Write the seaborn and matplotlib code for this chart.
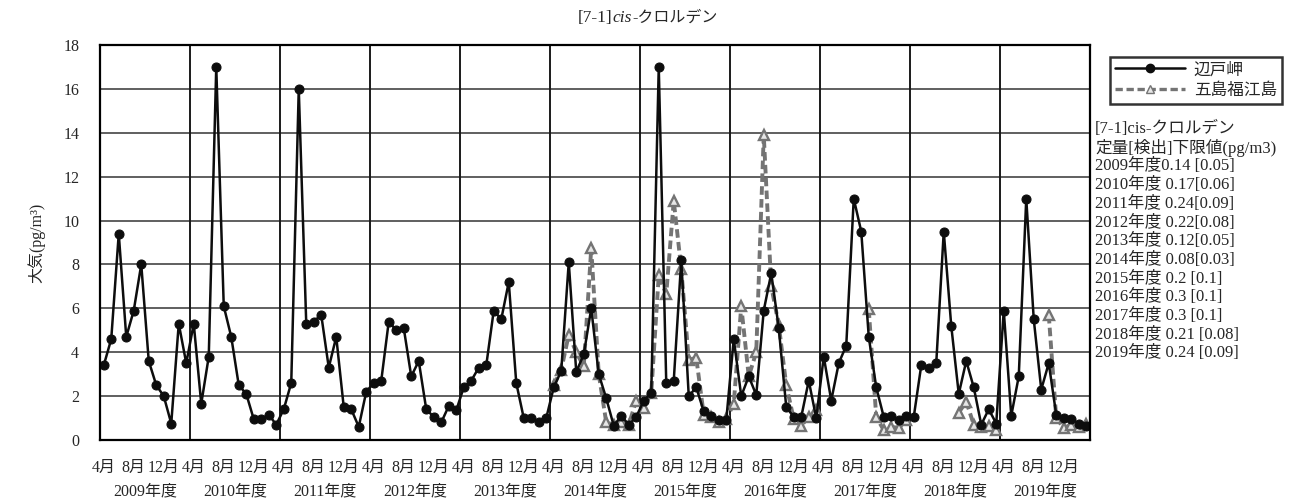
import matplotlib
matplotlib.use("Agg")
import matplotlib.pyplot as plt
from matplotlib.lines import Line2D
import numpy as np
import pandas as pd
import seaborn as sns

# fiscal years (April - March), one value per month
years = ["2009", "2010", "2011", "2012", "2013", "2014",
         "2015", "2016", "2017", "2018", "2019"]
months = ["4月", "5月", "6月", "7月", "8月", "9月",
          "10月", "11月", "12月", "1月", "2月", "3月"]
shown_months = ["4月", "8月", "12月"]

# 辺戸岬 (pg/m3)
hedo = [
    3.4, 4.6, 9.4, 4.7, 5.9, 8.0, 3.6, 2.5, 2.0, 0.75, 5.3, 3.5,      # 2009
    5.3, 1.65, 3.8, 17.0, 6.1, 4.7, 2.5, 2.1, 0.95, 0.95, 1.15, 0.7,  # 2010
    1.4, 2.6, 16.0, 5.3, 5.4, 5.7, 3.3, 4.7, 1.5, 1.4, 0.6, 2.2,      # 2011
    2.6, 2.7, 5.4, 5.0, 5.1, 2.9, 3.6, 1.4, 1.05, 0.8, 1.55, 1.35,    # 2012
    2.4, 2.7, 3.3, 3.4, 5.9, 5.5, 7.2, 2.6, 1.0, 1.0, 0.8, 1.0,       # 2013
    2.4, 3.15, 8.1, 3.1, 3.9, 6.0, 3.0, 1.9, 0.65, 1.1, 0.7, 1.05,    # 2014
    1.8, 2.15, 17.0, 2.6, 2.7, 8.2, 2.0, 2.4, 1.3, 1.1, 0.9, 0.9,     # 2015
    4.6, 2.0, 2.9, 2.05, 5.9, 7.6, 5.1, 1.5, 1.05, 1.05, 2.7, 1.0,    # 2016
    3.8, 1.8, 3.5, 4.3, 11.0, 9.5, 4.7, 2.4, 1.05, 1.1, 0.9, 1.1,     # 2017
    1.05, 3.4, 3.3, 3.5, 9.5, 5.2, 2.1, 3.6, 2.4, 0.7, 1.4, 0.75,     # 2018
    5.9, 1.1, 2.9, 11.0, 5.5, 2.3, 3.5, 1.15, 1.0, 0.95, 0.75, 0.65,  # 2019
]

# 五島福江島 (pg/m3), NaN = no measurement
nan = np.nan
goto = [nan] * 60 + [
    2.5, 3.2, 4.8, 4.0, 3.35, 8.75, 3.0, 0.8, 0.7, 0.8, 0.7, 1.8,     # 2014
    1.45, 2.15, 7.5, 6.65, 10.9, 7.8, 3.65, 3.75, 1.15, 1.05, 0.8, 0.95,  # 2015
    1.65, 6.1, 2.9, 4.0, 13.9, 7.0, 5.25, 2.5, 0.95, 0.65, 1.05, 1.35,    # 2016
    nan, nan, nan, nan, nan, nan, 5.95, 1.05, 0.45, 0.6, 0.55, 0.9,   # 2017
    nan, nan, nan, nan, nan, nan, 1.25, 1.75, 0.7, 0.6, 0.65, 0.45,   # 2018
    nan, nan, nan, nan, nan, nan, 5.7, 1.0, 0.55, 0.7, 0.6, 0.75,     # 2019
]

limit_lines = [
    "[7-1]cis-クロルデン",
    "定量[検出]下限値(pg/m3)",
    "2009年度0.14 [0.05]",
    "2010年度 0.17[0.06]",
    "2011年度 0.24[0.09]",
    "2012年度 0.22[0.08]",
    "2013年度 0.12[0.05]",
    "2014年度 0.08[0.03]",
    "2015年度 0.2 [0.1]",
    "2016年度 0.3 [0.1]",
    "2017年度 0.3 [0.1]",
    "2018年度 0.21 [0.08]",
    "2019年度 0.24 [0.09]",
]

sns.set_style("white")
plt.rcParams["font.family"] = ["Liberation Serif", "Noto Sans CJK JP"]

W, H = 1292, 504
fig = plt.figure(figsize=(W / 100, H / 100), dpi=100)
ax = fig.add_axes([100 / W, 1 - 440 / H, 990 / W, 395 / H])

n = len(hedo)
df = pd.DataFrame({"idx": np.arange(n), "hedo": hedo, "goto": goto})
df["seg"] = df["goto"].isna().cumsum()
gdf = df.dropna(subset=["goto"])

black_color = "#0d0d0d"
gray_color = "#747474"

# grid first so the lines sit on top
for v in range(2, 18, 2):
    ax.axhline(v, color="#444444", lw=1.2, zorder=1)
for k in range(1, len(years)):
    ax.axvline(12 * k - 0.5, color="#1a1a1a", lw=1.4, zorder=1)

sns.lineplot(data=gdf, x="idx", y="goto", units="seg", estimator=None,
             color=gray_color, lw=2.8, linestyle=(0, (2.2, 1.1)),
             marker="^", markersize=7.5, markerfacecolor="#e6e6e6",
             markeredgecolor=gray_color, markeredgewidth=1.7,
             ax=ax, zorder=3)
sns.lineplot(data=df, x="idx", y="hedo", estimator=None,
             color=black_color, lw=1.8, marker="o", markersize=6.5,
             markeredgecolor=black_color, markerfacecolor=black_color,
             ax=ax, zorder=4)

ax.set_xlim(-0.5, n - 0.5)
ax.set_ylim(0, 18)
ax.set_yticks(range(0, 19, 2))
ax.tick_params(axis="y", length=0, pad=15, labelsize=11.5)

tick_pos = [i for i in range(n) if months[i % 12] in shown_months]
ax.set_xticks(tick_pos)
ax.set_xticklabels([months[i % 12] for i in tick_pos])
ax.tick_params(axis="x", length=0, pad=14, labelsize=11.5)
ax.set_xlabel("")
ax.set_ylabel("大気(pg/m³)", fontsize=11.5)
ax.yaxis.set_label_coords(-55 / 990, 0.5)

for k, yr in enumerate(years):
    ax.text(12 * k + 5.5, -0.13, yr + "年度", transform=ax.get_xaxis_transform(),
            ha="center", va="center", fontsize=11.5)

for side in ax.spines.values():
    side.set_color("black")
    side.set_linewidth(1.6)
    side.set_zorder(5)

# title with italic "cis"
t1 = fig.text(578 / W, 1 - 18 / H, "[7-1]", fontsize=12.5, va="center", ha="left")
t2 = ax.annotate("cis", xy=(1, 0), xycoords=t1, va="bottom", ha="left",
                 fontsize=12.5, fontstyle="italic")
ax.annotate("-クロルデン", xy=(1, 0), xycoords=t2, va="bottom", ha="left",
            fontsize=11.5)

handles = [
    Line2D([], [], color=black_color, lw=1.8, marker="o", markersize=6),
    Line2D([], [], color=gray_color, lw=2.4, linestyle=(0, (2.2, 1.1)),
           marker="^", markersize=6, markerfacecolor="#e6e6e6",
           markeredgecolor=gray_color),
]
leg = fig.legend(handles, ["辺戸岬", "五島福江島"], loc="upper left",
                 bbox_to_anchor=(1102 / W, 1 - 49 / H), frameon=True,
                 fancybox=False, edgecolor="black", fontsize=12,
                 handlelength=4.2, borderpad=0.3, labelspacing=0.25,
                 handletextpad=0.5)
leg.get_frame().set_linewidth(1.8)

for i, line in enumerate(limit_lines):
    fig.text(1095 / W, 1 - (129 + i * 18.7) / H, line, fontsize=12,
             va="center", ha="left")

fig.savefig("out.png", dpi=100)
